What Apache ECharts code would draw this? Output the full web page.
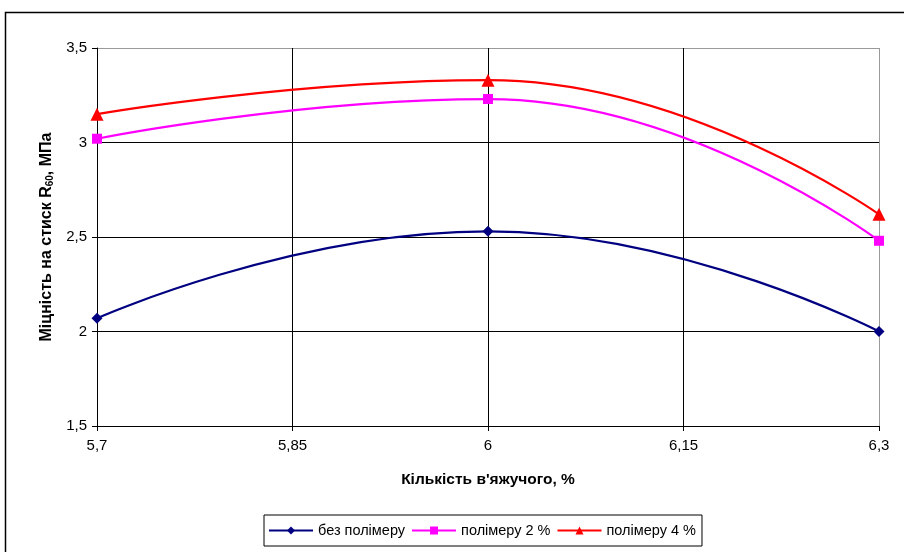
<!DOCTYPE html>
<html><head><meta charset="utf-8">
<script src="https://cdn.jsdelivr.net/npm/echarts@6/dist/echarts.min.js"></script>
<style>html,body{margin:0;padding:0;background:#fff}#c{width:904px;height:552px}</style>
</head><body><div id="c"></div>
<script>
const xValues = [5.7, 6.0, 6.3];
const xTicks = ['5,7', '5,85', '6', '6,15', '6,3'];
const seriesNames = ['без полімеру', 'полімеру 2 %', 'полімеру 4 %'];
const noPolymer = [2.07, 2.53, 2.0];
const polymer2 = [3.02, 3.23, 2.48];
const polymer4 = [3.15, 3.33, 2.62];

const font = 'Liberation Sans, Arial, sans-serif';
const chart = echarts.init(document.getElementById('c'));
function pairs(v){ return xValues.map((x,i)=>[x, v[i]]); }
const fmt = v => String(+v.toFixed(2)).replace('.', ',');
chart.setOption({
  animation:false,
  graphic:[{type:'rect', shape:{x:5.5,y:12.5,width:910,height:560}, style:{fill:'none',stroke:'#000',lineWidth:1.5}, z:-1}],
  grid:{left:97, right:25, top:48, bottom:126},
  xAxis:{type:'value', min:5.7, max:6.3, interval:0.15,
    axisLine:{lineStyle:{color:'#000'}},
    axisTick:{show:true, length:5, lineStyle:{color:'#000'}},
    axisLabel:{color:'#000', fontFamily:font, fontSize:15, margin:12, formatter:fmt},
    splitLine:{show:true, lineStyle:{color:['#000','#000','#000','#000','#999'], width:1}},
    name:'Кількість в\'яжучого, %', nameLocation:'middle', nameGap:46,
    nameTextStyle:{color:'#000', fontFamily:font, fontSize:15.5, fontWeight:'bold'}
  },
  yAxis:{type:'value', min:1.5, max:3.5, interval:0.5,
    axisLine:{show:true, lineStyle:{color:'#000'}},
    axisTick:{show:true, length:5, lineStyle:{color:'#000'}},
    axisLabel:{color:'#000', fontFamily:font, fontSize:15, margin:10, formatter:fmt},
    splitLine:{show:true, lineStyle:{color:['#000','#000','#000','#000','#999'], width:1}},
    name:'{b|Міцність на стиск R}{s|60}{b|, МПа}', nameLocation:'middle', nameGap:42,
    nameTextStyle:{color:'#000', fontFamily:font, fontSize:16, fontWeight:'bold',
      rich:{b:{fontFamily:font, fontSize:16, fontWeight:'bold', color:'#000'},
            s:{fontFamily:font, fontSize:10, fontWeight:'bold', color:'#000', verticalAlign:'bottom', padding:[7,0,0,0]}}}
  },
  legend:{bottom:6, left:264, itemWidth:44, itemHeight:10, itemGap:6,
    borderColor:'#000', borderWidth:1, padding:[8,6,8,4],
    textStyle:{color:'#000', fontFamily:font, fontSize:14.5},
    data:seriesNames},
  series:[
    {name:seriesNames[0], type:'line', smooth:0.5, data:pairs(noPolymer), symbol:'diamond', symbolSize:11,
      lineStyle:{color:'#000080', width:2.2}, itemStyle:{color:'#000080'}},
    {name:seriesNames[1], type:'line', smooth:0.5, data:pairs(polymer2), symbol:'rect', symbolSize:10,
      lineStyle:{color:'#ff00ff', width:2.2}, itemStyle:{color:'#ff00ff'}},
    {name:seriesNames[2], type:'line', smooth:0.5, data:pairs(polymer4), symbol:'triangle', symbolSize:13,
      lineStyle:{color:'#ff0000', width:2.2}, itemStyle:{color:'#ff0000'}}
  ]
});
</script></body></html>
